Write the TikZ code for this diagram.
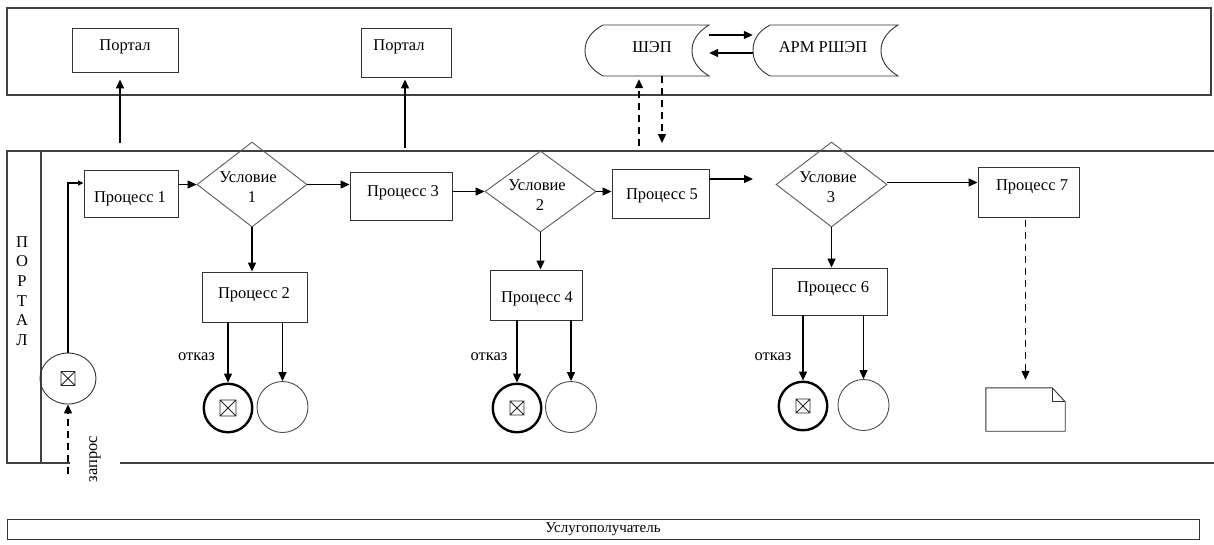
\documentclass[tikz,border=0pt]{standalone}
\usepackage{fontspec}
\setmainfont{Liberation Serif}
\usetikzlibrary{arrows.meta,shapes.geometric,calc}
\begin{document}
\begin{tikzpicture}[x=1pt,y=-1pt,
  lane/.style={draw=black!75, line width=1.1pt},
  outline/.style={draw=black!80, line width=0.9pt},
  box/.style={outline, rectangle, inner sep=0pt},
  cond/.style={draw=black!65, line width=0.9pt, diamond, inner sep=0pt},
  txt/.style={font=\fontsize{16.5}{19}\selectfont, inner sep=0pt, anchor=base},
  ctxt/.style={font=\fontsize{16.5}{19}\selectfont, inner sep=0pt, anchor=center},
  arr/.style={-{Triangle[length=9pt,width=8pt]}, line width=1.3pt, black},
  sarr/.style={-{Triangle[length=5.5pt,width=5pt]}, line width=1.1pt, black},
  darr/.style={arr, dash pattern=on 7pt off 5pt},
  xbox/.style={path picture={
      \coordinate (xc) at (path picture bounding box.center);
      \draw[line width=0.9pt, black!85]
        ([shift={(-#1,-#1)}]xc) rectangle ([shift={(#1,#1)}]xc)
        ([shift={(-#1,-#1)}]xc) -- ([shift={(#1,#1)}]xc)
        ([shift={(-#1,#1)}]xc) -- ([shift={(#1,-#1)}]xc);}},
  xbox/.default=7pt,
  endx/.style={circle, draw=black, line width=2.4pt, minimum size=48.5pt, inner sep=0pt},
  endo/.style={circle, draw=black!70, line width=0.9pt, minimum size=51pt, inner sep=0pt},
]
\useasboundingbox (0,0) rectangle (1214,544);

% ---------- top lane ----------
\draw[lane] (7,8) rectangle (1211,95);
\node[box, minimum width=106pt, minimum height=44pt] (por1) at (125,50) {};
\node[txt] (por1t) at (125,50) {Портал};
\node[box, minimum width=90pt, minimum height=49pt] (por2) at (406,52.5) {};
\node[txt] (por2t) at (399,50) {Портал};

\node[minimum width=124pt, minimum height=51pt, inner sep=0pt] (shep) at (647,50.5) {};
\draw[outline] (603,25) -- (709,25) .. controls (696,33) and (692,42) .. (692,50.5)
  .. controls (692,59) and (696,68) .. (709,76) -- (603,76)
  .. controls (590,69) and (585,60) .. (585,50.5)
  .. controls (585,41) and (590,32) .. (603,25) -- cycle;
\node[txt] (shept) at (652,52.5) {ШЭП};

\node[minimum width=145pt, minimum height=51pt, inner sep=0pt] (arm) at (825.5,50.5) {};
\draw[outline] (770,25) -- (898,25) .. controls (885,33) and (881,42) .. (881,50.5)
  .. controls (881,59) and (885,68) .. (898,76) -- (770,76)
  .. controls (757,69) and (753,60) .. (753,50.5)
  .. controls (753,41) and (757,32) .. (770,25) -- cycle;
\node[txt] (armt) at (823,52.5) {АРМ РШЭП};

\draw[arr] ([yshift=15.5pt]shep.east) -- ([yshift=15.5pt]arm.west);
\draw[arr] ([yshift=-2.5pt]arm.west) -- ([yshift=-2.5pt]shep.east);

% ---------- middle lane ----------
\draw[lane] (1214,151) -- (7,151) -- (7,463) -- (70,463);
\draw[lane] (120,463) -- (1214,463);
\draw[lane] (41,151) -- (41,463);
\foreach \l/\i in {П/0,О/1,Р/2,Т/3,А/4,Л/5}
  \node[ctxt] (pl\i) at (22,{242+19.6*\i}) {\l};

% links to the top lane
\coordinate (u1) at (120,143);
\coordinate (u2) at (405,148);
\draw[arr, shorten >=7pt] (u1) -- (u1 |- por1.south);
\draw[arr, shorten >=2pt] (u2) -- (u2 |- por2.south);
\coordinate (q1) at (639,146);
\coordinate (q2) at (662,143);
\draw[darr, shorten >=3pt] (q1) -- (q1 |- shep.south);
\draw[darr] (q2 |- shep.south) -- (q2);

% processes
\node[box, minimum width=94pt, minimum height=47pt] (p1) at (131,193.5) {};
\node[txt] (p1t) at (130,202) {Процесс 1};
\node[box, minimum width=105pt, minimum height=50pt] (p2) at (254.5,297) {};
\node[txt] (p2t) at (254,298) {Процесс 2};
\node[box, minimum width=102pt, minimum height=48pt] (p3) at (401,196) {};
\node[txt] (p3t) at (403,196) {Процесс 3};
\node[box, minimum width=92pt, minimum height=50pt] (p4) at (536,295) {};
\node[txt] (p4t) at (537,302) {Процесс 4};
\node[box, minimum width=97pt, minimum height=49pt] (p5) at (660.5,193.5) {};
\node[txt] (p5t) at (662,199) {Процесс 5};
\node[box, minimum width=115pt, minimum height=47pt] (p6) at (829.5,291.5) {};
\node[txt] (p6t) at (833,292) {Процесс 6};
\node[box, minimum width=101pt, minimum height=50pt] (p7) at (1028.5,192) {};
\node[txt] (p7t) at (1032,190) {Процесс 7};

% conditions
\node[cond, minimum width=110pt, minimum height=85pt] (c1) at (252,184.5) {};
\node[txt] (c1a) at (248,182) {Условие};
\node[txt] (c1b) at (252,202) {1};
\node[cond, minimum width=111pt, minimum height=81pt] (c2) at (540.5,191.5) {};
\node[txt] (c2a) at (537,190) {Условие};
\node[txt] (c2b) at (540,210) {2};
\node[cond, minimum width=111pt, minimum height=85pt] (c3) at (831.5,184.5) {};
\node[txt] (c3a) at (828,182) {Условие};
\node[txt] (c3b) at (831,202) {3};

% start event
\node[ellipse, outline, minimum width=56pt, minimum height=51pt, inner sep=0pt, xbox=7pt] (st) at (68,378.5) {};
\coordinate (zq) at (68,474);
\draw[darr] (zq) -- (st.south);
\node[ctxt, rotate=90] (zapt) at (95,459) {запрос};
\draw[sarr] (st.north) |- ([yshift=10.5pt]p1.west);

% main flow
\draw[arr] (c1.west -| p1.east) -- (c1.west);
\draw[arr] (c1.east) -- (c1.east -| p3.west);
\draw[arr] (c2.west -| p3.east) -- (c2.west);
\draw[arr] (c2.east) -- (c2.east -| p5.west);
\coordinate (c3in) at (753,179);
\draw[arr] (c3in -| p5.east) -- (c3in);
\draw[arr] ([yshift=2pt]c3.east) -- ([yshift=2pt]c3.east -| p7.west);

\draw[arr] (c1.south) -- (c1.south |- p2.north);
\draw[arr] (c2.south) -- (c2.south |- p4.north);
\draw[arr] (c3.south) -- (c3.south |- p6.north);

% end events
\node[endx, xbox=8pt] (e1x) at (228,408) {};
\node[endo] (e1o) at (282.5,407) {};
\node[endx, xbox=7pt] (e2x) at (517,408) {};
\node[endo] (e2o) at (571,407) {};
\node[endx, xbox=7pt] (e3x) at (803,406) {};
\node[endo] (e3o) at (863.5,405) {};

\draw[arr] (e1x |- p2.south) -- (e1x);
\draw[arr] (e1o |- p2.south) -- (e1o);
\draw[arr] (e2x |- p4.south) -- (e2x);
\draw[arr] (e2o |- p4.south) -- (e2o);
\draw[arr] (e3x |- p6.south) -- (e3x);
\draw[arr] (e3o |- p6.south) -- (e3o);

\node[ctxt] (ot1) at (196.5,356.5) {отказ};
\node[ctxt] (ot2) at (489,357) {отказ};
\node[ctxt] (ot3) at (773,357) {отказ};

% document
\node[minimum width=79pt, minimum height=43pt, inner sep=0pt] (doc) at (1025.5,409.5) {};
\draw[outline] (doc.south west) -- (doc.north west) -- ([xshift=-13pt]doc.north east)
  -- ([yshift=-14pt]doc.north east) -- (doc.south east) -- cycle;
\draw[outline] ([xshift=-13pt]doc.north east) -- ([xshift=-13pt,yshift=-14pt]doc.north east)
  -- ([yshift=-14pt]doc.north east);
\draw[darr, shorten <=3pt, shorten >=8pt] (doc.north |- p7.south) -- (doc.north);

% ---------- bottom lane ----------
\node[box, minimum width=1192pt, minimum height=20pt, font=\fontsize{15}{17}\selectfont] (usl) at (603,529) {Услугополучатель};
\end{tikzpicture}
\end{document}
